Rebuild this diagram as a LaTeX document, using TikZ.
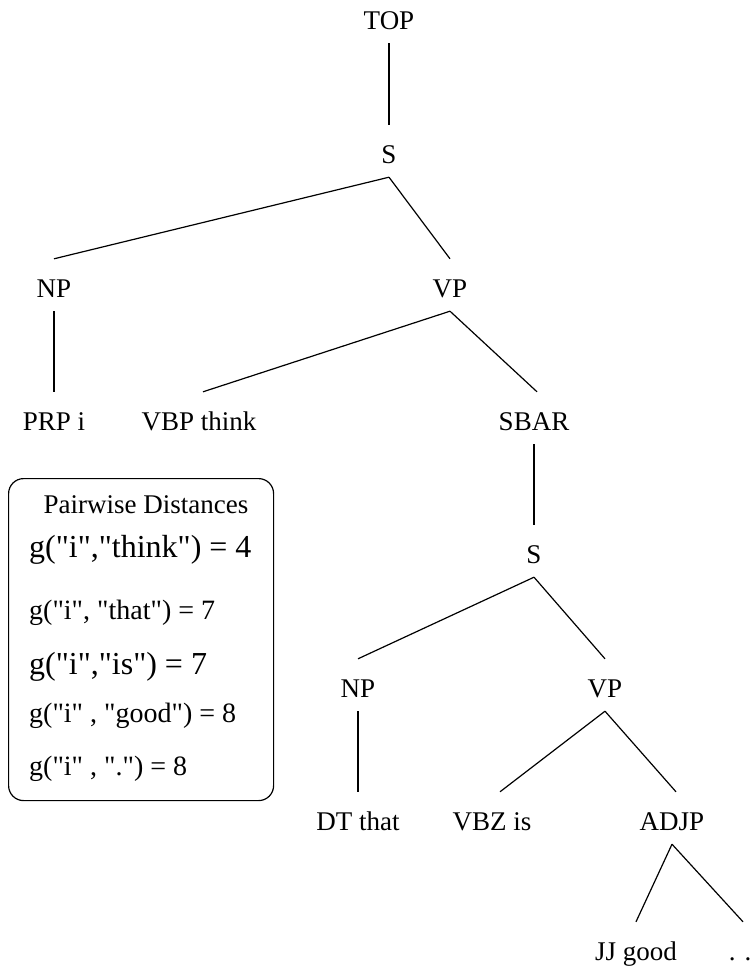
\documentclass[tikz,border=0pt]{standalone}
\usepackage{fontspec}
\setmainfont{Liberation Serif}
% plain family without TeX ligatures, so that " stays a straight quote
\newfontfamily\distfont{Liberation Serif}
\begin{document}
\begin{tikzpicture}[x=1pt,y=-1pt,
  lab/.style={anchor=base, font=\fontsize{27}{30}\selectfont,
    text height=24pt, text depth=0pt, inner xsep=2pt, inner ysep=14pt},
  edge/.style={line width=1.2pt},
  dist/.style={anchor=base west, inner sep=0pt},
  big/.style={font=\distfont\fontsize{32}{36}\selectfont},
  mid/.style={font=\distfont\fontsize{28}{32}\selectfont}]
\useasboundingbox (0,0) rectangle (753,969);

% parse tree labels
\node[lab] (top)  at (389,29)  {TOP};
\node[lab] (s1)   at (389,163) {S};
\node[lab] (np1)  at (54,297)  {NP};
\node[lab] (vp1)  at (450,297) {VP};
\node[lab] (prp)  at (54,430)  {PRP i};
\node[lab] (vbp)  at (199,430) {VBP think};
\node[lab] (sbar) at (534,430) {SBAR};
\node[lab] (s2)   at (534,563) {S};
\node[lab] (np2)  at (358,697) {NP};
\node[lab] (vp2)  at (605,697) {VP};
\node[lab] (dt)   at (358,830) {DT that};
\node[lab] (vbz)  at (492,830) {VBZ is};
\node[lab] (adjp) at (672,830) {ADJP};
\node[lab] (jj)   at (636,960) {JJ good};
\node[lab] (pun)  at (740,960) {. .};

% tree edges
\draw[edge] (top.south) -- (s1.north);
\draw[edge] (s1.south) -- (np1.north);
\draw[edge] (s1.south) -- (vp1.north);
\draw[edge] (np1.south) -- (prp.north);
\draw[edge] (vp1.south) -- ([xshift=4pt]vbp.north);
\draw[edge] (vp1.south) -- ([xshift=3pt]sbar.north);
\draw[edge] (sbar.south) -- (s2.north);
\draw[edge] (s2.south) -- (np2.north);
\draw[edge] (s2.south) -- (vp2.north);
\draw[edge] (np2.south) -- (dt.north);
\draw[edge] (vp2.south) -- ([xshift=8pt]vbz.north);
\draw[edge] (vp2.south) -- ([xshift=4pt]adjp.north);
\draw[edge] (adjp.south) -- (jj.north);
\draw[edge] (adjp.south) -- ([xshift=3pt]pun.north);

% distance box
\node[draw, rounded corners=15pt, line width=1.2pt, anchor=north west,
  minimum width=265pt, minimum height=322pt, inner sep=0pt] (box) at (8,478) {};
\node[anchor=base, inner sep=0pt, font=\fontsize{27}{30}\selectfont] (title) at (146,513) {Pairwise Distances};
\node[dist, big] (d1) at (29,557) {g("i","think") = 4};
\node[dist, mid] (d2) at (29,619) {g("i", "that") = 7};
\node[dist, big] (d3) at (29,674) {g("i","is") = 7};
\node[dist, mid] (d4) at (29,722) {g("i" , "good") = 8};
\node[dist, mid] (d5) at (29,775) {g("i" , ".") = 8};
\end{tikzpicture}
\end{document}
